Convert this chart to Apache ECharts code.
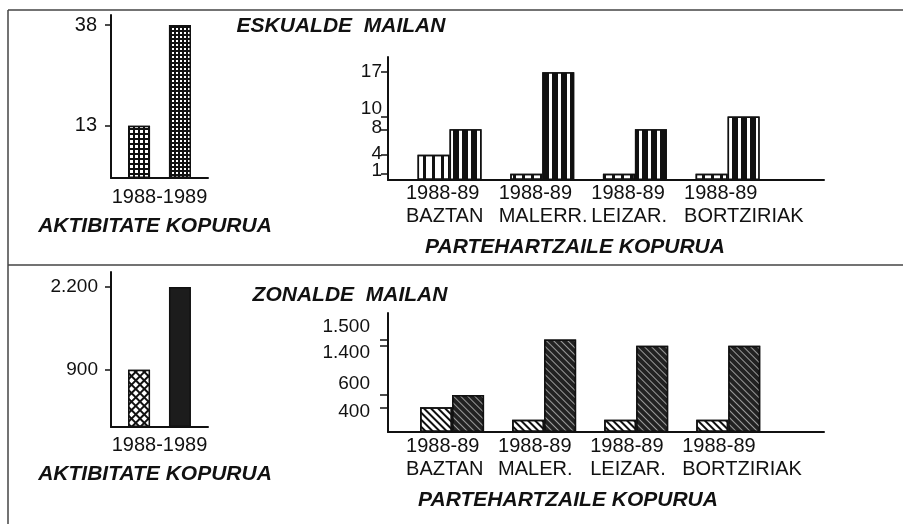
<!DOCTYPE html>
<html><head><meta charset="utf-8">
<script src="https://cdn.jsdelivr.net/npm/echarts@6/dist/echarts.min.js"></script>
<style>html,body{margin:0;padding:0;background:#fff}#c{width:903px;height:524px}</style>
</head><body><div id="c"></div>
<script>
// ---- data ----
const leftCategory = ['1988-1989'];
const topLeft1988 = [13];
const topLeft1989 = [38];
const topLeftTicks = [13, 38];

const periodLabel = '1988-89';
const regionsTop = ['BAZTAN', 'MALERR.', 'LEIZAR.', 'BORTZIRIAK'];
const topRight1988 = [4, 1, 1, 1];
const topRight1989 = [8, 17, 8, 10];
const topRightTicks = [1, 4, 8, 10, 17];

const bottomLeft1988 = [900];
const bottomLeft1989 = [2200];
const bottomLeftTicks = [900, 2200];

const regionsBottom = ['BAZTAN', 'MALER.', 'LEIZAR.', 'BORTZIRIAK'];
const bottomRight1988 = [400, 200, 200, 200];
const bottomRight1989 = [600, 1500, 1400, 1400];
const bottomRightTicks = [400, 600, 1400, 1500];

const titleTop = 'ESKUALDE  MAILAN';
const titleBottom = 'ZONALDE  MAILAN';
const leftCaption = 'AKTIBITATE KOPURUA';
const rightCaption = 'PARTEHARTZAILE KOPURUA';

// ---- helpers ----
const FONT = "'Liberation Sans', Arial, Helvetica, sans-serif";
const INK = '#111';
function fmt(v) { return String(v).replace(/\B(?=(\d{3})+(?!\d))/g, '.'); }
const axisLine = { show: true, onZero: false, lineStyle: { color: INK, width: 2 } };

// tick labels, optionally nudged vertically (px) away from their tick as in the original print
function labelOpt(max, heightPx, ticks, margin, size, nudgePx) {
  const ppu = heightPx / max;
  const pos = ticks.map(t => t - ((nudgePx && nudgePx[t]) || 0) / ppu);
  return {
    customValues: pos, margin: margin, fontSize: size, fontFamily: FONT, color: INK,
    hideOverlap: false,
    rich: { t: { fontSize: size, lineHeight: 12, fontFamily: FONT, color: INK } },
    formatter: v => {
      let best = 0;
      pos.forEach((p, i) => { if (Math.abs(p - v) < Math.abs(pos[best] - v)) best = i; });
      return '{t|' + fmt(ticks[best]) + '}';
    }
  };
}
function yAxis(grid, max, heightPx, ticks, labelTicks, margin, size, nudgePx, tickLen) {
  return {
    type: 'value', gridIndex: grid, min: 0, max: max, position: 'left',
    axisLine: axisLine,
    axisTick: { show: true, customValues: ticks, length: tickLen || 6, lineStyle: { color: INK, width: 1.5 } },
    axisLabel: labelOpt(max, heightPx, labelTicks, margin, size, nudgePx),
    splitLine: { show: false }
  };
}
// companion axis carrying the remaining tick labels (keeps crowded labels from hiding each other)
function yLabelsOnly(grid, max, heightPx, labelTicks, margin, size, nudgePx) {
  return {
    type: 'value', gridIndex: grid, min: 0, max: max, position: 'left', offset: 0,
    axisLine: { show: false }, axisTick: { show: false }, splitLine: { show: false },
    axisLabel: labelOpt(max, heightPx, labelTicks, margin, size, nudgePx)
  };
}
function xCat(grid, margin) {
  return {
    type: 'category', gridIndex: grid, data: leftCategory,
    axisLine: axisLine, axisTick: { show: false },
    axisLabel: { margin: margin, fontSize: 20, fontFamily: FONT, color: INK }
  };
}
// labels are left-aligned, starting a little before each group's bars
function xRegions(grid, min, max, names, margin, lead) {
  return {
    type: 'value', gridIndex: grid, min: min, max: max,
    axisLine: axisLine, axisTick: { show: false }, splitLine: { show: false },
    axisLabel: { customValues: names.map((n, i) => i - lead), align: 'left', margin: margin,
      fontSize: 20, lineHeight: 23, hideOverlap: false,
      fontFamily: FONT, color: INK, formatter: v => periodLabel + '\n' + names[Math.round(v + lead)] }
  };
}
function pairs(arr) { return arr.map((v, i) => [i, v]); }
function stripes(w, gap, col, rot) {
  return { symbol: 'rect', symbolSize: 1, symbolKeepAspect: false, color: col,
    dashArrayX: [w, gap], dashArrayY: [10, 0], rotation: rot || 0 };
}
const border = { borderColor: INK, borderWidth: 1.5 };
const trNudge = { 10: -7.5, 8: -1.5, 4: -1, 1: -3 };
const brNudge = { 1500: -12.5, 1400: 7, 600: -11, 400: 4.5 };

const option = {
  animation: false,
  backgroundColor: '#fff',
  grid: [
    { left: 111, top: 15, width: 97, height: 163, outerBoundsMode: 'none' },
    { left: 388, top: 57, width: 436, height: 123, outerBoundsMode: 'none' },
    { left: 111, top: 272, width: 97, height: 155, outerBoundsMode: 'none' },
    { left: 388, top: 313, width: 436, height: 119, outerBoundsMode: 'none' }
  ],
  xAxis: [
    xCat(0, 9),
    xRegions(1, -0.664, 4.04, regionsTop, 2, 0.47),
    xCat(2, 8),
    xRegions(3, -0.696, 4.04, regionsBottom, 3, 0.5)
  ],
  yAxis: [
    yAxis(0, 40.5, 163, topLeftTicks, topLeftTicks, 14, 20),
    yAxis(1, 19.4, 123, topRightTicks, topRightTicks.filter((t, i) => i % 2 === 0), 6, 19, trNudge, 7),
    yAxis(2, 2436, 155, bottomLeftTicks, bottomLeftTicks, 13, 19),
    yAxis(3, 1932, 119, bottomRightTicks, bottomRightTicks, 18, 19, brNudge, 8),
    yLabelsOnly(1, 19.4, 123, topRightTicks.filter((t, i) => i % 2 === 1), 6, 19, trNudge)
  ],
  series: [
    { type: 'bar', xAxisIndex: 0, yAxisIndex: 0, data: topLeft1988, barWidth: 22, barGap: '86%',
      itemStyle: Object.assign({ color: INK, decal: { symbol: 'rect', symbolSize: 1, symbolKeepAspect: false,
        color: '#fff', dashArrayX: [2.6, 1.4], dashArrayY: [2.6, 1.4] } }, border) },
    { type: 'bar', xAxisIndex: 0, yAxisIndex: 0, data: topLeft1989, barWidth: 22, barGap: '86%',
      itemStyle: Object.assign({ color: INK, decal: { symbol: 'rect', symbolSize: 1, symbolKeepAspect: false,
        color: '#fff', dashArrayX: [2, 2], dashArrayY: [2, 2] } }, border) },

    { type: 'bar', xAxisIndex: 1, yAxisIndex: 1, data: pairs(topRight1988), barWidth: 32, barGap: '0%',
      itemStyle: Object.assign({ color: '#fff', decal: stripes(2.5, 5.5, INK) }, border) },
    { type: 'bar', xAxisIndex: 1, yAxisIndex: 1, data: pairs(topRight1989), barWidth: 32, barGap: '0%',
      itemStyle: Object.assign({ color: INK, decal: stripes(2.5, 5.5, '#fff') }, border) },

    { type: 'bar', xAxisIndex: 2, yAxisIndex: 2, data: bottomLeft1988, barWidth: 22, barGap: '86%',
      itemStyle: Object.assign({ color: INK, decal: { symbol: 'rect', symbolSize: 1, symbolKeepAspect: false,
        color: '#fff', dashArrayX: [4, 1.3], dashArrayY: [4, 1.3], rotation: Math.PI / 4 } }, border) },
    { type: 'bar', xAxisIndex: 2, yAxisIndex: 2, data: bottomLeft1989, barWidth: 22, barGap: '86%',
      itemStyle: Object.assign({ color: '#1c1c1c' }, border) },

    { type: 'bar', xAxisIndex: 3, yAxisIndex: 3, data: pairs(bottomRight1988), barWidth: 32, barGap: '0%',
      itemStyle: Object.assign({ color: '#fff', decal: stripes(2, 3, INK, -Math.PI / 4) }, border) },
    { type: 'bar', xAxisIndex: 3, yAxisIndex: 3, data: pairs(bottomRight1989), barWidth: 32, barGap: '0%',
      itemStyle: Object.assign({ color: '#222', decal: stripes(1, 3.2, 'rgba(255,255,255,0.55)', -Math.PI / 4) }, border) }
  ],
  graphic: [
    { type: 'line', shape: { x1: 8, y1: 10, x2: 903, y2: 10 }, style: { stroke: '#444', lineWidth: 1.5 } },
    { type: 'line', shape: { x1: 8, y1: 10, x2: 8, y2: 524 }, style: { stroke: '#444', lineWidth: 1.5 } },
    { type: 'line', shape: { x1: 8, y1: 265, x2: 903, y2: 265 }, style: { stroke: '#444', lineWidth: 1.5 } },
    { type: 'text', x: 341, y: 26, style: { text: titleTop, font: 'italic bold 21px ' + FONT, fill: INK, align: 'center', verticalAlign: 'middle' } },
    { type: 'text', x: 350, y: 295, style: { text: titleBottom, font: 'italic bold 21px ' + FONT, fill: INK, align: 'center', verticalAlign: 'middle' } },
    { type: 'text', x: 155, y: 226, style: { text: leftCaption, font: 'italic bold 21px ' + FONT, fill: INK, align: 'center', verticalAlign: 'middle' } },
    { type: 'text', x: 155, y: 474, style: { text: leftCaption, font: 'italic bold 21px ' + FONT, fill: INK, align: 'center', verticalAlign: 'middle' } },
    { type: 'text', x: 575, y: 247, style: { text: rightCaption, font: 'italic bold 21px ' + FONT, fill: INK, align: 'center', verticalAlign: 'middle' } },
    { type: 'text', x: 568, y: 500, style: { text: rightCaption, font: 'italic bold 21px ' + FONT, fill: INK, align: 'center', verticalAlign: 'middle' } }
  ]
};
const chart = echarts.init(document.getElementById('c'), null, { renderer: 'canvas' });
chart.setOption(option);
</script></body></html>
